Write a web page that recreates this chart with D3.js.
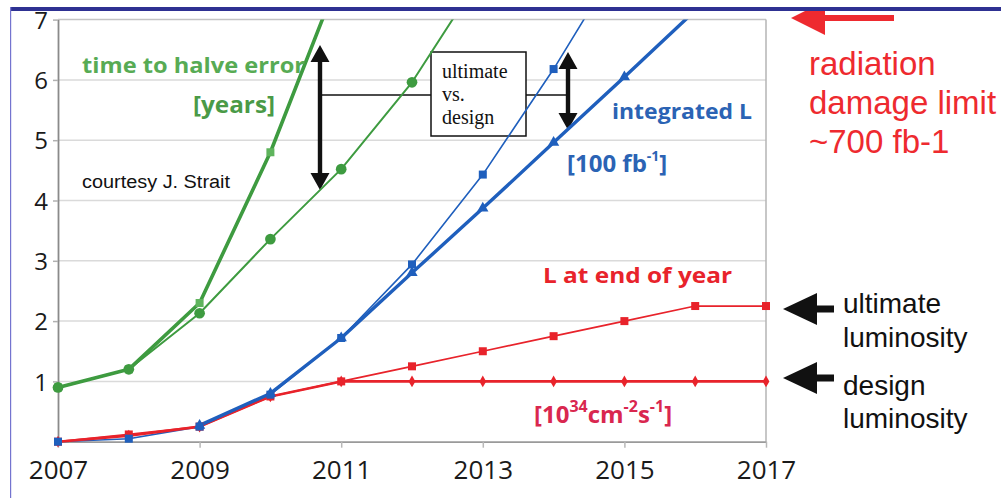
<!DOCTYPE html>
<html>
<head>
<meta charset="utf-8">
<script src="https://cdn.jsdelivr.net/npm/d3@7"></script>
<style>
  html, body { margin: 0; padding: 0; background: #fff; }
  svg { display: block; }
</style>
</head>
<body>
<svg id="chart" width="1001" height="498"></svg>
<script>
// ---- data ---------------------------------------------------------------
const xTickYears = [2007, 2009, 2011, 2013, 2015, 2017];
const yTickValues = [1, 2, 3, 4, 5, 6, 7];

// time to halve the statistical error [years]
const halveUltimateYears = [2007, 2008, 2009, 2010, 2011];
const halveUltimate      = [0.9, 1.2, 2.3, 4.8, 7.8];
const halveDesignYears   = [2007, 2008, 2009, 2010, 2011, 2012, 2013];
const halveDesign        = [0.9, 1.2, 2.13, 3.36, 4.52, 5.96, 7.78];

// integrated luminosity [100 fb-1]
const intUltimateYears = [2007, 2008, 2009, 2010, 2011, 2012, 2013, 2014, 2015];
const intUltimate      = [0, 0.05, 0.25, 0.78, 1.72, 2.94, 4.43, 6.18, 8.1];
const intDesignYears   = [2009, 2010, 2011, 2012, 2013, 2014, 2015, 2016];
const intDesign        = [0.27, 0.8, 1.72, 2.8, 3.87, 4.96, 6.05, 7.15];

// peak luminosity at end of year [10^34 cm-2 s-1]
const peakYears    = [2007, 2008, 2009, 2010, 2011, 2012, 2013, 2014, 2015, 2016, 2017];
const peakUltimate = [0, 0.12, 0.25, 0.75, 1.0, 1.25, 1.5, 1.75, 2.0, 2.25, 2.25];
const peakDesign   = [0, 0.1, 0.25, 0.75, 1.0, 1.0, 1.0, 1.0, 1.0, 1.0, 1.0];

// ---- layout -------------------------------------------------------------
const plot = { left: 58, right: 766, top: 19.6, bottom: 441.7 };
const x = d3.scaleLinear().domain([2007, 2017]).range([plot.left, plot.right]);
const y = d3.scaleLinear().domain([0, 7]).range([plot.bottom, plot.top]);

const GREEN = "#3e9b40", GREEN_MARK = "#5fb45d";
const BLUE = "#1f5fbd";
const RED = "#e8232b";

const svg = d3.select("#chart");
const zip = (xs, ys) => xs.map((d, i) => [d, ys[i]]);
const line = d3.line().x(d => x(d[0])).y(d => y(d[1]));

svg.append("defs").append("clipPath").attr("id", "plotClip")
  .append("rect")
  .attr("x", plot.left - 10).attr("y", plot.top)
  .attr("width", plot.right - plot.left + 20).attr("height", plot.bottom - plot.top + 10);

// ---- grid & axes --------------------------------------------------------
svg.append("g").selectAll("line").data(yTickValues).join("line")
  .attr("x1", plot.left).attr("x2", plot.right)
  .attr("y1", d => y(d)).attr("y2", d => y(d))
  .attr("stroke", d => d === 7 ? "#c4c4c4" : "#dadada")
  .attr("stroke-width", 1.5);

svg.append("line")
  .attr("x1", plot.right).attr("x2", plot.right)
  .attr("y1", plot.top).attr("y2", plot.bottom)
  .attr("stroke", "#b4b4b4").attr("stroke-width", 1.5);

const yAxis = svg.append("g")
  .attr("transform", `translate(${plot.left},0)`)
  .call(d3.axisLeft(y).tickValues(yTickValues).tickSize(5).tickSizeOuter(0).tickFormat(d3.format("d")));
yAxis.select(".domain").attr("stroke", "#8a8a8a").attr("stroke-width", 1.8);
yAxis.selectAll(".tick line").attr("stroke", "#b0b0b0").attr("stroke-width", 1.5);
yAxis.selectAll(".tick text")
  .attr("x", -17).attr("dy", "0.36em")
  .attr("text-anchor", "middle")
  .style("font-family", "'Open Sans', 'Noto Sans', sans-serif")
  .style("font-size", "24px").attr("fill", "#1a1a1a");

const xAxis = svg.append("g")
  .attr("transform", `translate(0,${plot.bottom})`)
  .call(d3.axisBottom(x).tickValues(xTickYears).tickSize(6).tickSizeOuter(0).tickFormat(d3.format("d")));
xAxis.select(".domain").attr("stroke", "#9a9a9a").attr("stroke-width", 1.8);
xAxis.selectAll(".tick line").attr("stroke", "#b8b8b8").attr("stroke-width", 1.5);
xAxis.selectAll(".tick text")
  .attr("y", 37).attr("dy", null)
  .style("font-family", "'Open Sans', 'Noto Sans', sans-serif")
  .style("font-size", "26px").attr("fill", "#1a1a1a");

// ---- "ultimate vs. design" box and its connectors ----------------------
const ann = svg.append("g");
ann.append("line").attr("x1", 320).attr("x2", 431).attr("y1", 95).attr("y2", 95)
  .attr("stroke", "#111").attr("stroke-width", 1.5);
ann.append("line").attr("x1", 526).attr("x2", 568).attr("y1", 95).attr("y2", 95)
  .attr("stroke", "#111").attr("stroke-width", 1.5);
ann.append("rect").attr("x", 431).attr("y", 52).attr("width", 95).attr("height", 84)
  .attr("fill", "#fff").attr("stroke", "#111").attr("stroke-width", 1.5);
ann.selectAll("text.box").data([["ultimate", 78], ["vs.", 101], ["design", 124]]).join("text")
  .attr("class", "box")
  .attr("x", 442).attr("y", d => d[1])
  .text(d => d[0])
  .style("font-family", "'Liberation Serif', 'DejaVu Serif', serif")
  .style("font-size", "20px").attr("fill", "#111");

function doubleArrow(g, cx, y1, y2) {
  const sw = 2.2, hw = 9.5, hl = 17;
  const p = [
    [cx, y1], [cx + hw, y1 + hl], [cx + sw, y1 + hl], [cx + sw, y2 - hl], [cx + hw, y2 - hl],
    [cx, y2], [cx - hw, y2 - hl], [cx - sw, y2 - hl], [cx - sw, y1 + hl], [cx - hw, y1 + hl]
  ];
  g.append("path").attr("d", "M" + p.join("L") + "Z").attr("fill", "#111");
}
doubleArrow(ann, 320, 45, 190);
doubleArrow(ann, 568, 52, 130);

// ---- series lines -------------------------------------------------------
const lines = svg.append("g").attr("clip-path", "url(#plotClip)");
function drawLine(xs, ys, color, width) {
  lines.append("path").datum(zip(xs, ys))
    .attr("d", line).attr("fill", "none")
    .attr("stroke", color).attr("stroke-width", width)
    .attr("stroke-linejoin", "round");
}
drawLine(intUltimateYears, intUltimate, BLUE, 1.6);
drawLine(peakYears, peakDesign, RED, 2.6);
drawLine(peakYears, peakUltimate, RED, 1.7);
drawLine(intDesignYears, intDesign, BLUE, 3.4);
drawLine(halveUltimateYears, halveUltimate, GREEN, 3.6);
drawLine(halveDesignYears, halveDesign, GREEN, 2);

// ---- markers ------------------------------------------------------------
const marks = svg.append("g").attr("clip-path", "url(#plotClip)");
function squares(xs, ys, size, fill) {
  marks.append("g").selectAll("rect").data(zip(xs, ys)).join("rect")
    .attr("x", d => x(d[0]) - size / 2).attr("y", d => y(d[1]) - size / 2)
    .attr("width", size).attr("height", size).attr("fill", fill);
}
function symbols(xs, ys, type, size, fill) {
  marks.append("g").selectAll("path").data(zip(xs, ys)).join("path")
    .attr("transform", d => `translate(${x(d[0])},${y(d[1])})`)
    .attr("d", d3.symbol().type(type).size(size)).attr("fill", fill);
}
symbols(peakYears, peakDesign, d3.symbolDiamond, 40, RED);
squares(peakYears, peakUltimate, 8, RED);
squares(intUltimateYears, intUltimate, 8, BLUE);
symbols(intDesignYears, intDesign, d3.symbolTriangle, 55, BLUE);
squares(halveUltimateYears, halveUltimate, 8, GREEN_MARK);
symbols(halveDesignYears, halveDesign, d3.symbolCircle, 90, GREEN);

// ---- series labels ------------------------------------------------------
const bold = "'Open Sans', 'Noto Sans', sans-serif";
function label(txt, x0, y0, size, color, len) {
  const t = svg.append("text").attr("x", x0).attr("y", y0).text(txt)
    .style("font-family", bold).style("font-weight", 700)
    .style("font-size", size + "px").attr("fill", color);
  if (len) t.attr("textLength", len).attr("lengthAdjust", "spacingAndGlyphs");
  return t;
}
label("time to halve error", 82, 73, 22, "#57ab54", 223);
label("[years]", 193, 113, 24, "#4a9a47", 82);
label("integrated L", 612, 119, 21, "#2b63b4", 140);
label("L at end of year", 543, 283, 22, RED, 189);

// unit labels with superscripts, laid out in one flowing line
function unitLabel(parts, x0, y0, size, supSize, color) {
  const t = svg.append("text").attr("x", x0).attr("y", y0)
    .style("font-family", bold).style("font-weight", 700).attr("fill", color);
  let raised = false;
  parts.forEach(([txt, sup]) => {
    const shift = sup && !raised ? -11 : (!sup && raised ? 11 : 0);
    raised = sup;
    t.append("tspan").attr("dy", shift)
      .style("font-size", (sup ? supSize : size) + "px").text(txt);
  });
}
unitLabel([["[100 fb", false], ["-1", true], ["]", false]], 567, 172, 24, 14, "#2b63b4");
unitLabel([["[10", false], ["34", true], ["cm", false], ["-2", true], ["s", false], ["-1", true], ["]", false]],
  534, 423, 24, 16, "#d9274f");

svg.append("text").attr("x", 82).attr("y", 188).text("courtesy J. Strait")
  .style("font-family", "'Liberation Sans', Arial, sans-serif").style("font-size", "18px")
  .attr("fill", "#111").attr("textLength", 148).attr("lengthAdjust", "spacingAndGlyphs");

// ---- right-hand notes ---------------------------------------------------
function leftArrow(cy, tip, back, end, hh, sh, color) {
  const p = [[tip, cy], [back, cy - hh], [back, cy - sh], [end, cy - sh],
             [end, cy + sh], [back, cy + sh], [back, cy + hh]];
  svg.append("path").attr("d", "M" + p.join("L") + "Z").attr("fill", color);
}
leftArrow(309, 783, 817, 834, 16, 3.5, "#111");
leftArrow(378, 783, 817, 834, 16, 3.5, "#111");
leftArrow(18, 791, 825, 894, 17, 3, "#ee2a2f");

const sans = "'Liberation Sans', Arial, sans-serif";
svg.selectAll("text.lum").data([["ultimate", 313], ["luminosity", 347], ["design", 395], ["luminosity", 428]])
  .join("text").attr("class", "lum")
  .attr("x", 843).attr("y", d => d[1]).text(d => d[0])
  .style("font-family", sans).style("font-size", "28px").attr("fill", "#111");

svg.selectAll("text.rad").data([["radiation", 75], ["damage limit", 114], ["~700 fb-1", 153]])
  .join("text").attr("class", "rad")
  .attr("x", 809).attr("y", d => d[1]).text(d => d[0])
  .style("font-family", sans).style("font-size", "33px").attr("fill", "#ee2a2f");

// ---- slide frame --------------------------------------------------------
svg.append("rect").attr("x", 0).attr("y", 0).attr("width", 1001).attr("height", 7).attr("fill", "#fff");
svg.append("rect").attr("x", 10).attr("y", 7).attr("width", 991).attr("height", 4).attr("fill", "#2e3192");
svg.append("rect").attr("x", 10).attr("y", 7).attr("width", 1.2).attr("height", 491).attr("fill", "#7474cf");
</script>
</body>
</html>
